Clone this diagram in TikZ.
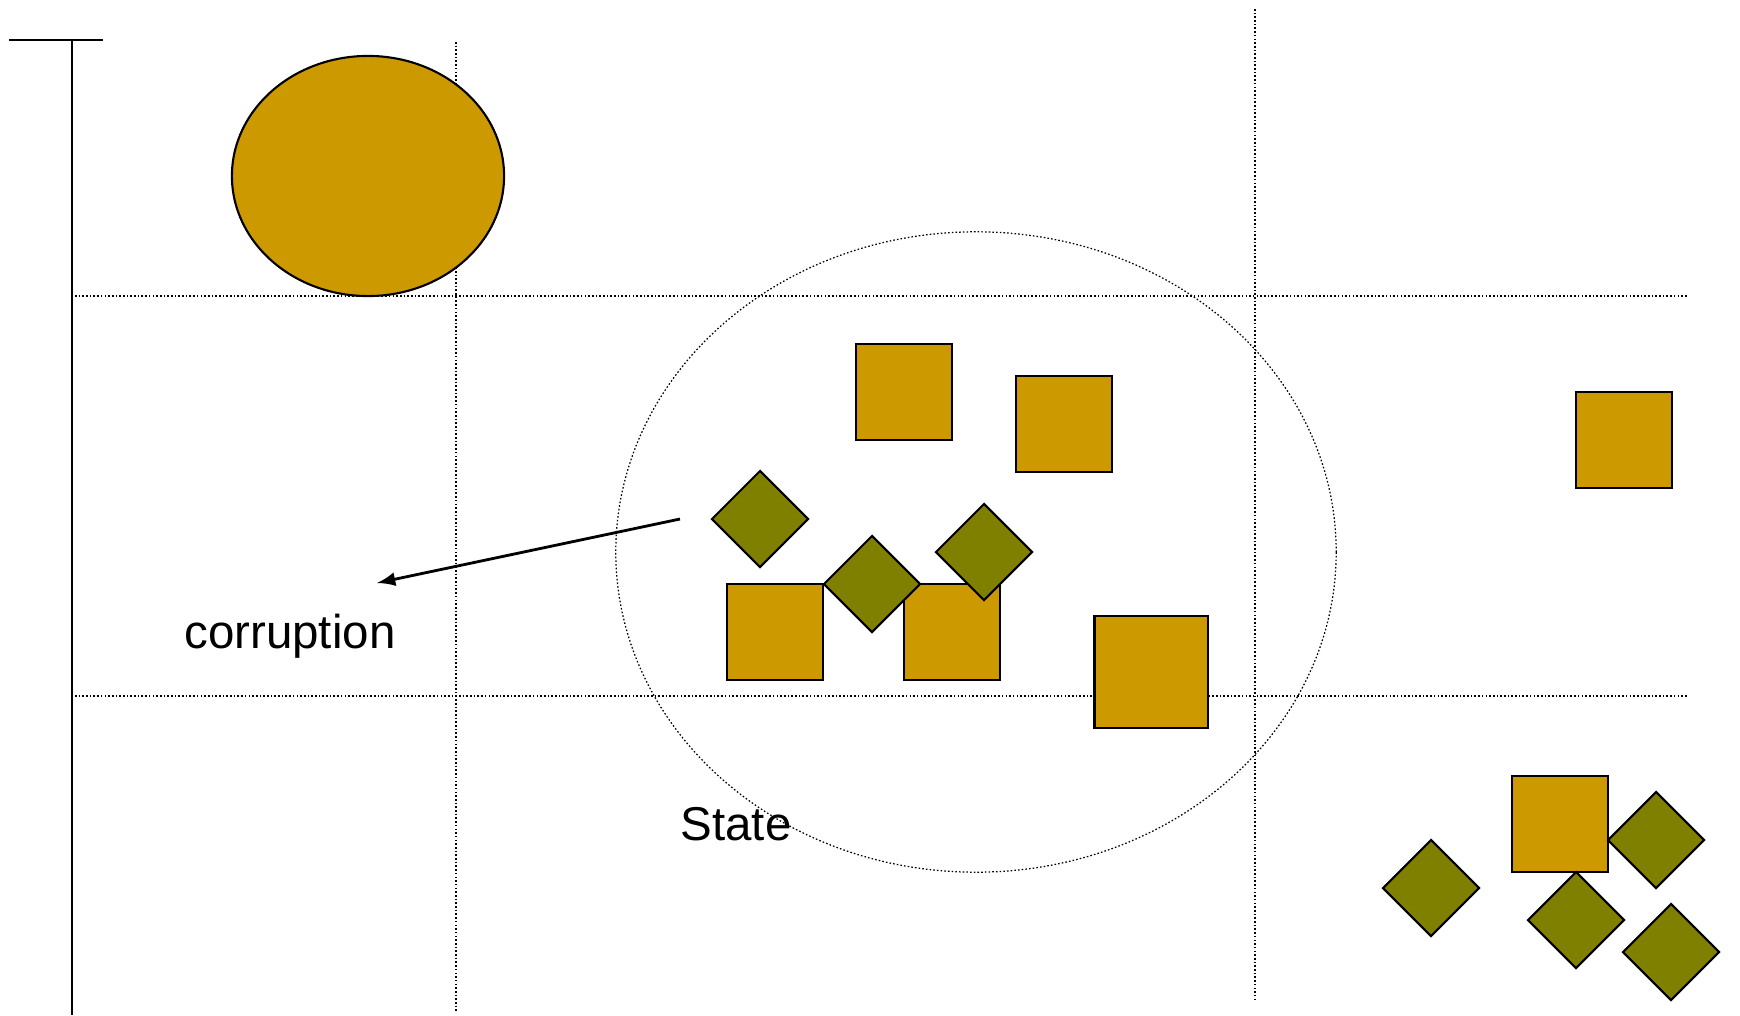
\documentclass[tikz,border=0pt]{standalone}
\usepackage{fontspec}
\setmainfont{Liberation Sans}
\usetikzlibrary{shapes.geometric}

\definecolor{goldfill}{RGB}{204,153,0}
\definecolor{olivefill}{RGB}{128,128,0}

\tikzset{
  gridline/.style={line width=0.35pt, dash pattern=on 0.45pt off 0.6pt},
  goldbox/.style={draw, line width=0.6pt, fill=goldfill, minimum size=0.965cm, inner sep=0pt, outer sep=0pt},
  olivegem/.style={draw, diamond, line width=0.6pt, fill=olivefill, minimum size=0.96cm, inner sep=0pt, outer sep=0pt},
  label/.style={font=\fontsize{13.5}{16}\selectfont, inner sep=0pt}
}

\begin{document}
\begin{tikzpicture}[x=0.01cm, y=-0.01cm]
\useasboundingbox (0,0) rectangle (1740,1015);

% axis
\draw[line width=0.6pt] (9,40) -- (103,40);
\draw[line width=0.6pt] (72,40) -- (72,1015);

% grid
\draw[gridline] (456,42) -- (456,1012);
\draw[gridline] (1255,9) -- (1255,999);
\draw[gridline] (75,296) -- (1687,296);
\draw[gridline] (75,696) -- (1687,696);

% big ball and state
\node[draw, ellipse, line width=0.6pt, fill=goldfill, minimum width=2.72cm, minimum height=2.4cm, inner sep=0pt] (ball) at (368,176) {};
\node[draw, ellipse, gridline, minimum width=7.2cm, minimum height=6.4cm, inner sep=0pt] (state) at (976,552) {};

% squares
\node[goldbox] (sq1) at (904,392) {};
\node[goldbox] (sq2) at (1064,424) {};
\node[goldbox] (sq3) at (1624,440) {};
\node[goldbox] (sq4) at (775,632) {};
\node[goldbox] (sq5) at (952,632) {};
\node[goldbox, minimum width=1.13cm, minimum height=1.12cm] (sq6) at (1151,672) {};
\node[goldbox] (sq7) at (1560,824) {};

% diamonds
\node[olivegem] (dm1) at (760,519) {};
\node[olivegem] (dm2) at (872,584) {};
\node[olivegem] (dm3) at (984,552) {};
\node[olivegem] (dm4) at (1431,888) {};
\node[olivegem] (dm5) at (1656,840) {};
\node[olivegem] (dm6) at (1576,920) {};
\node[olivegem] (dm7) at (1671,952) {};

% labels
\node[label] (corr) at (290,636) {corruption};
\node[label] (statelbl) at (736,824) {State};

\coordinate (arrstart) at (680,519);
\coordinate (arrend) at (377,583);
\draw[>=latex, ->, line width=0.8pt] (arrstart) -- (arrend);

\end{tikzpicture}
\end{document}
